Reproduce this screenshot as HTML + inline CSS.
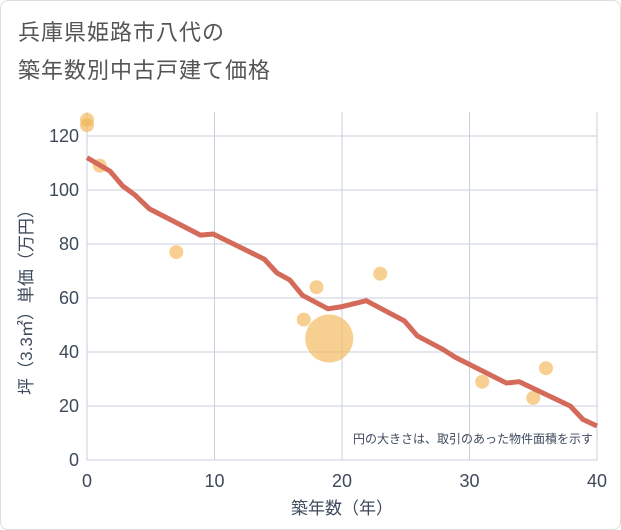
<!DOCTYPE html>
<html><head><meta charset="utf-8"><style>
body{margin:0;background:#fff;}
#wrap{position:relative;width:619px;height:528px;border:1px solid #ddd;border-radius:8px;background:#fff;overflow:hidden;}
.title{position:absolute;left:17px;font:22px "Liberation Sans","Noto Sans CJK JP",sans-serif;color:#555;letter-spacing:1px;}
svg text{font-family:"Liberation Sans","Noto Sans CJK JP",sans-serif;}
</style></head><body>
<div id="wrap">
<div class="title" style="top:14px">兵庫県姫路市八代の</div>
<div class="title" style="top:52px">築年数別中古戸建て価格</div>
<svg id="chart" width="621" height="530" style="position:absolute;left:-1px;top:-1px"></svg>
</div>
<script>
const lineX=[0,1.8,2.8,3.8,4.9,8.9,9.9,13.9,14.9,15.9,16.9,18.9,19.9,21.9,24.9,25.9,27.9,28.9,32.9,33.9,37.9,38.9,40];
const lineY=[112,107,101.5,98,93,83.3,83.7,74.4,69.3,66.7,61,56,56.7,59,51.5,46,41,38,28.5,29,20,15,12.6];
const bubX=[0,0,1,7,17,18,19,23,31,35,36];
const bubY=[126,124,109,77,52,64,45,69,29,23,34];
const bubR=[7,7,7,7,7,7,24,7,7,7,7];
const xTicks=[0,10,20,30,40];
const yTicks=[0,20,40,60,80,100,120];
const NS='http://www.w3.org/2000/svg';
const svg=document.getElementById('chart');
const X0=87,X1=597,Y0=460,Y1=136;
const sx=v=>X0+(X1-X0)*v/40;
const sy=v=>Y0-(Y0-Y1)*v/120;
function mk(t,a){const e=document.createElementNS(NS,t);for(const k in a)e.setAttribute(k,a[k]);svg.appendChild(e);return e;}
const plotBg=mk('rect',{x:X0,y:112,width:X1-X0,height:Y0-112,fill:'#fff'});


xTicks.forEach(t=>{
 const g=mk('line',{x1:sx(t),x2:sx(t),y1:112,y2:Y0,stroke:'#c8d0dc','stroke-width':1});
 
 
 const l=mk('text',{x:sx(t),y:487,'text-anchor':'middle','font-size':18,fill:'#3d4a5c'});l.textContent=t;
 
 
});
yTicks.forEach(t=>{
 const g=mk('line',{x1:X0,x2:X1,y1:sy(t),y2:sy(t),stroke:'#c8d0dc','stroke-width':1});
 
 
 const l=mk('text',{x:79,y:sy(t)+6,'text-anchor':'end','font-size':18,fill:'#3d4a5c'});l.textContent=t;
 
 
});
bubX.forEach((v,i)=>{
 const c=mk('circle',{cx:sx(v),cy:sy(bubY[i]),r:bubR[i],fill:'#f2b655','fill-opacity':0.65});
 
 
});
const pl=mk('polyline',{points:lineX.map((v,i)=>sx(v)+','+sy(lineY[i])).join(' '),fill:'none',stroke:'#d46a5a','stroke-width':5,'stroke-linejoin':'round'});


const note=mk('text',{x:593,y:443,'text-anchor':'end','font-size':12,fill:'#3d4a5c'});note.textContent='円の大きさは、取引のあった物件面積を示す';


const xt=mk('text',{x:342,y:514,'text-anchor':'middle','font-size':17,fill:'#3d4a5c'});xt.textContent='築年数（年）';


const yt=mk('text',{x:0,y:0,'text-anchor':'middle','font-size':17,fill:'#3d4a5c',transform:'translate(32,298) rotate(-90)'});yt.textContent='坪（3.3㎡）単価（万円）';


</script>
</body></html>
